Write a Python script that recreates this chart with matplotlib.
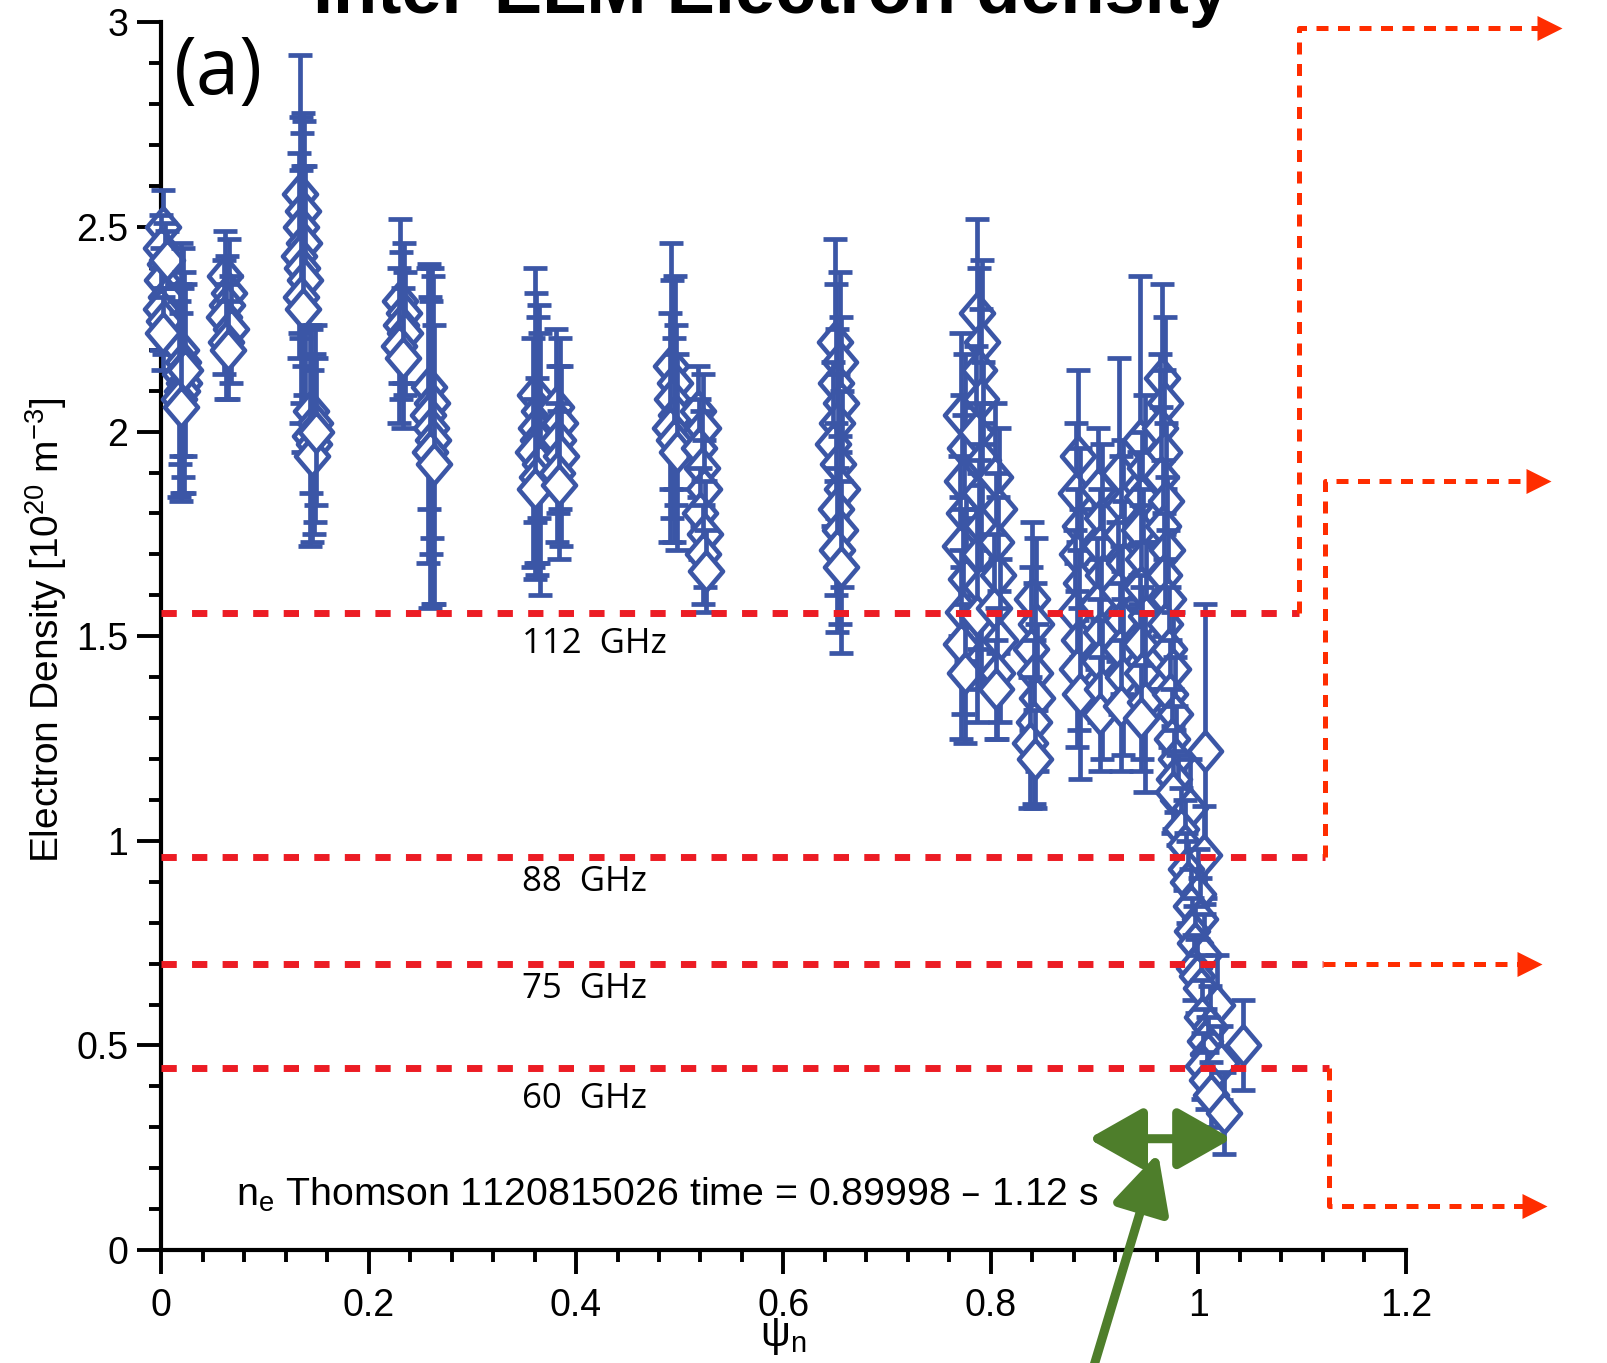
import matplotlib.pyplot as plt
from matplotlib.patches import FancyArrowPatch
from matplotlib.ticker import MultipleLocator

plt.rcParams['font.family'] = ['Liberation Sans', 'DejaVu Sans']
plt.rcParams['mathtext.default'] = 'regular'

# Thomson profile, inter-ELM time slices, one line per channel
psi_n = [
    0.002, 0.000, 0.004, 0.001, 0.005, 0.000, 0.003, 0.002, 0.006,
    0.019, 0.021, 0.018, 0.022, 0.020, 0.017, 0.023, 0.019,
    0.062, 0.066, 0.064, 0.061, 0.067, 0.063, 0.065,
    0.134, 0.137, 0.135, 0.138, 0.133, 0.136, 0.139, 0.135, 0.137,
    0.145, 0.148, 0.144, 0.147, 0.146, 0.149,
    0.230, 0.234, 0.231, 0.235, 0.229, 0.233,
    0.258, 0.261, 0.257, 0.260, 0.262, 0.259, 0.263,
    0.360, 0.364, 0.361, 0.363, 0.359, 0.365, 0.362, 0.360,
    0.381, 0.385, 0.383, 0.386, 0.382, 0.384,
    0.492, 0.495, 0.493, 0.496, 0.491, 0.494, 0.497,
    0.518, 0.522, 0.519, 0.521, 0.523, 0.520, 0.524, 0.522, 0.525,
    0.650, 0.654, 0.651, 0.655, 0.652, 0.648, 0.653, 0.656, 0.651, 0.654, 0.652, 0.655,
    0.771, 0.775, 0.772, 0.774, 0.770, 0.776, 0.773, 0.771, 0.775,
    0.787, 0.791, 0.788, 0.790, 0.786, 0.792, 0.789, 0.791, 0.788, 0.790, 0.787,
    0.804, 0.808, 0.805, 0.807, 0.803, 0.809, 0.806, 0.805,
    0.840, 0.843, 0.839, 0.842, 0.844, 0.841, 0.838, 0.842,
    0.884, 0.882, 0.886, 0.883, 0.887, 0.881, 0.885, 0.883, 0.886,
    0.903, 0.907, 0.905, 0.908, 0.902, 0.906, 0.904, 0.907, 0.905,
    0.923, 0.927, 0.925, 0.928, 0.922, 0.926, 0.924, 0.927, 0.925,
    0.944, 0.948, 0.946, 0.943, 0.947, 0.945, 0.949, 0.944, 0.946, 0.948, 0.945,
    0.965, 0.968, 0.963, 0.967, 0.964, 0.969, 0.966, 0.970, 0.967, 0.971, 0.968,
    0.972, 0.975, 0.973, 0.977, 0.974, 0.978, 1.006, 0.976, 0.980, 0.975,
    0.992, 0.983, 0.987, 1.005, 0.988, 0.990, 1.000, 0.993, 1.001, 0.994,
    0.997, 1.005, 0.996, 0.999, 1.002, 1.018, 1.003, 1.011, 1.006, 1.043,
    1.009, 1.004, 1.022, 1.008, 1.012, 1.025,
]
n_e = [
    2.50, 2.45, 2.41, 2.37, 2.33, 2.30, 2.27, 2.24, 2.42,
    2.20, 2.17, 2.14, 2.12, 2.10, 2.08, 2.15, 2.06,
    2.38, 2.34, 2.31, 2.28, 2.25, 2.22, 2.20,
    2.58, 2.54, 2.50, 2.46, 2.43, 2.40, 2.37, 2.33, 2.30,
    2.05, 2.02, 1.99, 1.97, 1.94, 2.00,
    2.32, 2.29, 2.26, 2.24, 2.21, 2.18,
    2.11, 2.07, 2.04, 2.01, 1.98, 1.95, 1.92,
    2.09, 2.05, 2.01, 1.98, 1.95, 1.92, 1.89, 1.86,
    2.06, 2.02, 1.98, 1.94, 1.90, 1.87,
    2.16, 2.12, 2.08, 2.04, 2.01, 1.98, 1.95,
    2.05, 2.01, 1.96, 1.91, 1.86, 1.80, 1.75, 1.70, 1.66,
    2.22, 2.17, 2.12, 2.07, 2.02, 1.97, 1.92, 1.86, 1.81, 1.76, 1.71, 1.67,
    2.04, 1.96, 1.88, 1.80, 1.72, 1.64, 1.56, 1.48, 1.41,
    2.29, 2.22, 2.15, 2.08, 2.00, 1.93, 1.85, 1.77, 1.70, 1.62, 1.55,
    1.89, 1.81, 1.73, 1.65, 1.57, 1.49, 1.41, 1.37,
    1.59, 1.53, 1.47, 1.41, 1.35, 1.29, 1.24, 1.20,
    1.94, 1.85, 1.77, 1.70, 1.63, 1.56, 1.49, 1.42, 1.36,
    1.86, 1.79, 1.72, 1.65, 1.58, 1.51, 1.44, 1.37, 1.31,
    1.90, 1.82, 1.75, 1.68, 1.61, 1.54, 1.47, 1.40, 1.33,
    1.98, 1.91, 1.84, 1.76, 1.69, 1.62, 1.55, 1.48, 1.41, 1.34, 1.30,
    2.13, 2.07, 2.01, 1.95, 1.89, 1.83, 1.77, 1.71, 1.65, 1.59, 1.53,
    1.47, 1.42, 1.36, 1.31, 1.25, 1.20, 1.22, 1.15, 1.10, 1.12,
    1.08, 1.03, 0.99, 0.965, 0.93, 0.90, 0.87, 0.84, 0.81, 0.78,
    0.75, 0.72, 0.69, 0.67, 0.64, 0.60, 0.57, 0.545, 0.51, 0.50,
    0.48, 0.45, 0.457, 0.415, 0.38, 0.335,
]
n_e_err = [
    0.09, 0.08, 0.10, 0.08, 0.09, 0.10, 0.08, 0.09, 0.07,
    0.26, 0.28, 0.22, 0.27, 0.25, 0.24, 0.21, 0.23,
    0.11, 0.13, 0.12, 0.14, 0.13, 0.14, 0.12,
    0.34, 0.24, 0.27, 0.30, 0.25, 0.33, 0.28, 0.31, 0.35,
    0.20, 0.24, 0.27, 0.22, 0.21, 0.18,
    0.20, 0.17, 0.18, 0.15, 0.19, 0.17,
    0.30, 0.33, 0.36, 0.31, 0.40, 0.38, 0.34,
    0.31, 0.26, 0.33, 0.30, 0.28, 0.32, 0.24, 0.22,
    0.19, 0.21, 0.18, 0.22, 0.17, 0.18,
    0.30, 0.26, 0.29, 0.22, 0.28, 0.25, 0.24,
    0.11, 0.13, 0.12, 0.14, 0.12, 0.11, 0.13, 0.12, 0.10,
    0.25, 0.22, 0.24, 0.21, 0.23, 0.20, 0.22, 0.24, 0.21, 0.23, 0.20, 0.21,
    0.20, 0.23, 0.21, 0.24, 0.22, 0.20, 0.25, 0.23, 0.17,
    0.23, 0.20, 0.25, 0.22, 0.21, 0.24, 0.22, 0.20, 0.23, 0.25, 0.26,
    0.18, 0.20, 0.17, 0.19, 0.18, 0.20, 0.16, 0.12,
    0.19, 0.21, 0.20, 0.22, 0.18, 0.20, 0.16, 0.12,
    0.21, 0.17, 0.19, 0.16, 0.18, 0.20, 0.22, 0.19, 0.21,
    0.15, 0.18, 0.14, 0.17, 0.16, 0.18, 0.15, 0.17, 0.14,
    0.28, 0.16, 0.19, 0.15, 0.17, 0.18, 0.16, 0.19, 0.16,
    0.40, 0.18, 0.16, 0.19, 0.17, 0.20, 0.18, 0.17, 0.21, 0.22, 0.13,
    0.23, 0.21, 0.18, 0.20, 0.17, 0.19, 0.16, 0.18, 0.15, 0.17, 0.16,
    0.15, 0.14, 0.13, 0.14, 0.12, 0.13, 0.36, 0.12, 0.11, 0.10,
    0.12, 0.10, 0.11, 0.12, 0.09, 0.10, 0.11, 0.09, 0.10, 0.08,
    0.09, 0.10, 0.08, 0.09, 0.08, 0.12, 0.09, 0.10, 0.08, 0.11,
    0.09, 0.08, 0.09, 0.07, 0.08, 0.10,
]

xticks = [0, 0.2, 0.4, 0.6, 0.8, 1, 1.2]
xticklabels = ['0', '0.2', '0.4', '0.6', '0.8', '1', '1.2']
yticks = [0, 0.5, 1, 1.5, 2, 2.5, 3]
yticklabels = ['0', '0.5', '1', '1.5', '2', '2.5', '3']

# reflectometer channels and their O-mode cutoff densities
freq_labels = ['112  GHz', '88  GHz', '75  GHz', '60  GHz']
cutoff_ne = [1.556, 0.960, 0.698, 0.446]
label_ne = [1.482, 0.900, 0.638, 0.370]
label_psi = 0.348
# where each cutoff line leaves the plot, the level it steps to, arrow tip
step_psi = [1.097, 1.122, 1.120, 1.126]
step_ne = [2.987, 1.879, 0.698, 0.108]
tip_psi = [1.350, 1.340, 1.331, 1.336]

# pedestal width arrow and pointer
width_psi = [0.894, 1.032]
width_ne = 0.272
pointer_from = (0.896, -0.31)
pointer_to = (0.961, 0.237)

blue = '#3b56a6'
red = '#ec1c24'
orange = '#ff2d00'
green = '#4e7e2b'

diamond = [(0, 1), (0.85, 0), (0, -1), (-0.85, 0), (0, 1)]
arrowhead = [(0, 0), (-1, 0.5), (-1, -0.5), (0, 0)]

fig = plt.figure(figsize=(16.07, 13.63), dpi=100)
ax = fig.add_axes([0.1002, 0.0829, 0.7747, 0.9006])

for x, y, e in zip(psi_n, n_e, n_e_err):
    eb = ax.errorbar(x, y, yerr=e, fmt='none', ecolor=blue, elinewidth=3.4,
                     capsize=8.5, capthick=3.4, zorder=3)
    for art in eb.get_children():
        art.set_clip_on(False)
    ax.plot(x, y, ls='none', marker=diamond, ms=28, mfc='white', mec=blue,
            mew=3.3, zorder=3, clip_on=False)

# cutoff layers, stepping out of the frame to the right
for ne_c, sx, sy, tx in zip(cutoff_ne, step_psi, step_ne, tip_psi):
    ax.plot([0, sx], [ne_c, ne_c], color=red, lw=5, dashes=(2.2, 2.2),
            dash_capstyle='butt', zorder=4, clip_on=False)
    ax.plot([sx, sx, tx - 0.01], [ne_c, sy, sy], color=orange, lw=3.6,
            dashes=(2.4, 1.9), dash_capstyle='butt', zorder=4, clip_on=False)
    ax.plot(tx, sy, ls='none', marker=arrowhead, ms=36, color=orange, mew=0,
            zorder=4, clip_on=False)

for lab, y in zip(freq_labels, label_ne):
    ax.text(label_psi, y, lab, fontsize=25, family=['Open Sans', 'DejaVu Sans'],
            va='center', ha='left')

ax.add_patch(FancyArrowPatch((width_psi[0], width_ne), (width_psi[1], width_ne),
                             arrowstyle='<|-|>,head_length=1.5,head_width=0.85',
                             mutation_scale=22, lw=6.5, color=green,
                             shrinkA=0, shrinkB=0, clip_on=False, zorder=5))
ax.add_patch(FancyArrowPatch(pointer_from, pointer_to,
                             arrowstyle='-|>,head_length=1.6,head_width=0.8',
                             mutation_scale=22, lw=6.5, color=green,
                             shrinkA=0, shrinkB=0, clip_on=False, zorder=5))

ax.text(0.072, 0.1075, 'n$_e$ Thomson 1120815026 time = 0.89998 \u2013 1.12 s',
        fontsize=28.3, va='baseline', ha='left')
ax.text(0.0125, 2.825, '(a)', fontsize=56, family=['Open Sans', 'DejaVu Sans'],
        va='baseline', ha='left')

ax.set_xlim(0, 1.2)
ax.set_ylim(0, 3)
ax.set_xticks(xticks)
ax.set_xticklabels(xticklabels)
ax.set_yticks(yticks)
ax.set_yticklabels(yticklabels)
ax.xaxis.set_minor_locator(MultipleLocator(0.04))
ax.yaxis.set_minor_locator(MultipleLocator(0.1))
for s in ['top', 'right']:
    ax.spines[s].set_visible(False)
for s in ['left', 'bottom']:
    ax.spines[s].set_linewidth(3)
ax.tick_params(which='major', direction='out', length=17.5, width=2.8,
               labelsize=27, pad=6)
ax.tick_params(which='minor', direction='out', length=8.5, width=2.8)
ax.tick_params(axis='x', which='major', pad=10)

ax.set_ylabel('Electron Density [10$^{20}$ m$^{-3}$]', fontsize=28)
ax.yaxis.set_label_coords(-0.074, 0.505)
ax.set_xlabel('\u03c8$_n$', fontsize=30)
ax.xaxis.set_label_coords(0.5, -0.054)

fig.text(771 / 1607, 1 - 12.5 / 1363, 'Inter-ELM Electron density',
         ha='center', va='baseline', fontsize=52, fontweight='bold')

fig.savefig('out.png', dpi=100)
